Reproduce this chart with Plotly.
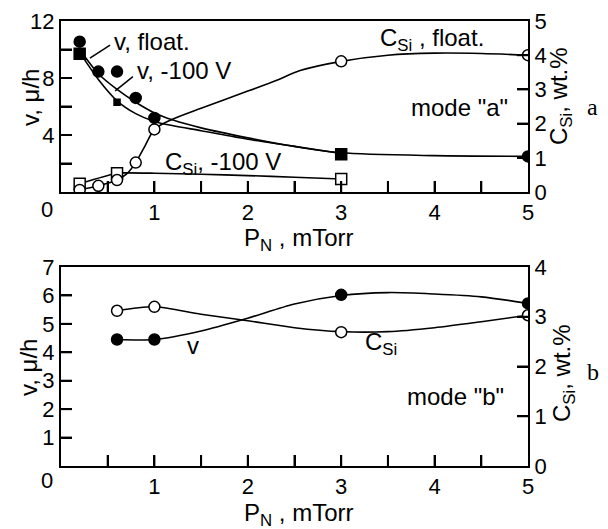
import plotly.graph_objects as go

# ---------------- Panel a (mode "a") ----------------
# measured points
a_v_float_x = [0.2, 0.4, 0.6, 0.8, 1.0, 5.0]
a_v_float_y = [10.55, 8.45, 8.45, 6.6, 5.2, 2.5]
a_v_m100_x = [0.2, 0.6, 3.0]
a_v_m100_y = [9.7, 6.3, 2.65]
a_csi_float_x = [0.2, 0.4, 0.6, 0.8, 1.0, 3.0, 5.0]
a_csi_float_y = [0.06, 0.18, 0.35, 0.86, 1.83, 3.82, 4.0]
a_csi_m100_x = [0.2, 0.6, 3.0]
a_csi_m100_y = [0.24, 0.55, 0.38]

# fitted curves
a_fit_v_float_x = [0.2, 0.4, 0.6, 0.8, 1.0, 1.2, 1.5, 2.0, 2.5, 3.0, 4.0, 5.0]
a_fit_v_float_y = [10.0, 8.3, 7.2, 6.3, 5.55, 5.05, 4.5, 3.8, 3.2, 2.75, 2.55, 2.5]
a_fit_v_m100_x = [0.2, 0.4, 0.6, 0.8, 1.0, 1.2, 1.5, 2.0, 2.5, 3.0]
a_fit_v_m100_y = [9.8, 7.9, 6.4, 5.5, 4.95, 4.65, 4.3, 3.7, 3.2, 2.7]
a_fit_csi_float_x = [0.2, 0.4, 0.6, 0.7, 0.8, 0.9, 1.0, 1.17, 1.5, 2.0, 2.31, 2.56, 3.0, 3.5, 4.0, 4.5, 5.0]
a_fit_csi_float_y = [0.06, 0.18, 0.35, 0.52, 0.86, 1.35, 1.83, 2.1, 2.45, 2.95, 3.27, 3.55, 3.82, 4.0, 4.06, 4.05, 4.0]
a_fit_csi_m100_x = [0.2, 0.6, 0.7, 1.0, 1.5, 2.0, 2.5, 3.0]
a_fit_csi_m100_y = [0.24, 0.55, 0.56, 0.55, 0.52, 0.48, 0.43, 0.38]

# ---------------- Panel b (mode "b") ----------------
b_v_x = [0.6, 1.0, 3.0, 5.0]
b_v_y = [4.45, 4.45, 6.02, 5.72]
b_csi_x = [0.6, 1.0, 3.0, 5.0]
b_csi_y = [3.12, 3.2, 2.69, 3.03]
b_fit_v_x = [0.6, 1.0, 1.5, 2.0, 2.5, 3.0, 3.5, 4.0, 4.5, 5.0]
b_fit_v_y = [4.45, 4.45, 4.75, 5.2, 5.7, 6.0, 6.1, 6.05, 5.95, 5.72]
b_fit_csi_x = [0.6, 1.0, 1.5, 2.0, 2.5, 3.0, 3.5, 4.0, 4.5, 5.0]
b_fit_csi_y = [3.12, 3.2, 3.05, 2.92, 2.78, 2.7, 2.7, 2.78, 2.9, 3.03]

# tick labels
x_tickvals = [0, 0.5, 1, 1.5, 2, 2.5, 3, 3.5, 4, 4.5, 5]
x_ticktext = ["", "", "1", "", "2", "", "3", "", "4", "", "5"]
a_left_tickvals = [0, 2, 4, 6, 8, 10, 12]
a_left_ticktext = ["", "", "4", "", "8", "", "12"]
a_right_tickvals = [0, 1, 2, 3, 4, 5]
a_right_ticktext = ["0", "1", "2", "3", "4", "5"]
b_left_tickvals = [0, 1, 2, 3, 4, 5, 6, 7]
b_left_ticktext = ["", "1", "2", "3", "4", "5", "6", "7"]
b_right_tickvals = [0, 1, 2, 3, 4]
b_right_ticktext = ["0", "1", "2", "3", "4"]

X_RANGE = [0, 5]
A_LEFT_RANGE = [0, 12]
A_RIGHT_RANGE = [0, 5]
B_LEFT_RANGE = [0, 7]
B_RIGHT_RANGE = [0, 4]

FONT = "Liberation Sans, Arial, sans-serif"
SERIF = "Liberation Serif, Times New Roman, serif"
TICKF = 22
ANNF = 24
LW = 1.6
TICKLEN = 11

fig = go.Figure()

def line(x, y, xa, ya):
    fig.add_trace(go.Scatter(x=x, y=y, mode="lines", line=dict(color="#000000", width=LW, shape="spline", smoothing=0.8),
                             xaxis=xa, yaxis=ya, hoverinfo="skip", showlegend=False))

def pts(x, y, xa, ya, symbol, filled, size=11):
    fig.add_trace(go.Scatter(x=x, y=y, mode="markers", xaxis=xa, yaxis=ya, showlegend=False,
                             marker=dict(symbol=symbol, size=size, color="#000000" if filled else "#ffffff",
                                         opacity=1, line=dict(color="#000000", width=1.5))))

# panel a
line(a_fit_v_float_x, a_fit_v_float_y, "x", "y")
line(a_fit_v_m100_x, a_fit_v_m100_y, "x", "y")
line(a_fit_csi_float_x, a_fit_csi_float_y, "x", "y2")
line(a_fit_csi_m100_x, a_fit_csi_m100_y, "x", "y2")
pts(a_csi_m100_x, a_csi_m100_y, "x", "y2", "square", False, 11)
pts(a_csi_float_x, a_csi_float_y, "x", "y2", "circle", False, 11)
pts(a_v_float_x, a_v_float_y, "x", "y", "circle", True, 11)
pts(a_v_m100_x, a_v_m100_y, "x", "y", "square", True, [11, 6, 11])

# panel b
line(b_fit_v_x, b_fit_v_y, "x2", "y3")
line(b_fit_csi_x, b_fit_csi_y, "x2", "y4")
pts(b_v_x, b_v_y, "x2", "y3", "circle", True, 11)
pts(b_csi_x, b_csi_y, "x2", "y4", "circle", False, 11)

W, H = 608, 529
XPIX = (61, 528)
TOPPIX = (21, 192)
BOTPIX = (267, 466)
XD = [XPIX[0] / W, XPIX[1] / W]
TOPD = [1 - TOPPIX[1] / H, 1 - TOPPIX[0] / H]
BOTD = [1 - BOTPIX[1] / H, 1 - BOTPIX[0] / H]

def ax(**kw):
    d = dict(showline=True, linecolor="#000000", linewidth=2, ticks="inside", ticklen=TICKLEN, tickwidth=2,
             tickcolor="#000000", showgrid=False, zeroline=False,
             tickfont=dict(family=FONT, size=TICKF, color="#000000"))
    d.update(kw)
    return d

fig.update_layout(
    width=W, height=H, showlegend=False,
    margin=dict(l=0, r=0, t=0, b=0, autoexpand=False),
    paper_bgcolor="white", plot_bgcolor="white",
    xaxis=ax(domain=XD, anchor="y", range=X_RANGE, tickvals=x_tickvals, ticktext=x_ticktext, mirror=True),
    yaxis=ax(domain=TOPD, anchor="x", range=A_LEFT_RANGE, tickvals=a_left_tickvals, ticktext=a_left_ticktext),
    yaxis2=ax(overlaying="y", side="right", anchor="x", range=A_RIGHT_RANGE, tickvals=a_right_tickvals,
              ticktext=a_right_ticktext),
    xaxis2=ax(domain=XD, anchor="y3", range=X_RANGE, tickvals=x_tickvals, ticktext=x_ticktext, mirror=True),
    yaxis3=ax(domain=BOTD, anchor="x2", range=B_LEFT_RANGE, tickvals=b_left_tickvals, ticktext=b_left_ticktext),
    yaxis4=ax(overlaying="y3", side="right", anchor="x2", range=B_RIGHT_RANGE, tickvals=b_right_tickvals,
              ticktext=b_right_ticktext),
)

# inside tick marks built from the same tick arrays, in axis units (TICKLEN pixels long)
tick_style = dict(color="#000000", width=2)
plot_w = XPIX[1] - XPIX[0]
x_len = TICKLEN / plot_w * (X_RANGE[1] - X_RANGE[0])
panels = [
    ("x", "y", "y2", A_LEFT_RANGE, A_RIGHT_RANGE, TOPPIX, a_left_tickvals, a_right_tickvals),
    ("x2", "y3", "y4", B_LEFT_RANGE, B_RIGHT_RANGE, BOTPIX, b_left_tickvals, b_right_tickvals),
]
for xr, yl, yrt, lrange, rrange, pix, lvals, rvals in panels:
    h = pix[1] - pix[0]
    y_len = TICKLEN / h * (lrange[1] - lrange[0])
    for tv in x_tickvals[1:-1]:
        fig.add_shape(type="line", xref=xr, yref=yl, x0=tv, x1=tv, y0=lrange[0], y1=lrange[0] + y_len,
                      line=tick_style, layer="above")
    for tv in lvals[1:-1]:
        fig.add_shape(type="line", xref=xr, yref=yl, x0=X_RANGE[0], x1=X_RANGE[0] + x_len, y0=tv, y1=tv,
                      line=tick_style, layer="above")
    for tv in rvals[1:-1]:
        fig.add_shape(type="line", xref=xr, yref=yrt, x0=X_RANGE[1] - x_len, x1=X_RANGE[1], y0=tv, y1=tv,
                      line=tick_style, layer="above")

anns = []
def ann(text, x, y, xref, yref, xanchor="center", yanchor="middle", size=ANNF, angle=0, family=FONT):
    anns.append(dict(text=text, x=x, y=y, xref=xref, yref=yref, xanchor=xanchor, yanchor=yanchor,
                     showarrow=False, textangle=angle, font=dict(family=family, size=size, color="#000000")))

# panel a labels
ann("v, float.", 0.55, 10.55, "x", "y", xanchor="left")
ann("v, -100 V", 0.79, 8.55, "x", "y", xanchor="left")
ann("C<sub>Si</sub>, -100 V", 1.09, 2.0, "x", "y", xanchor="left")
ann("C<sub>Si</sub> , float.", 3.39, 10.7, "x", "y", xanchor="left")
ann('mode "a"', 4.81, 5.95, "x", "y", xanchor="right")
ann("a", 592 / W, 1 - 107 / H, "paper", "paper", family=SERIF, size=24)
ann("v, μ/h", 30 / W, 1 - 98 / H, "paper", "paper", angle=-90)
ann("C<sub>Si</sub>, wt.%", 561 / W, 1 - 96 / H, "paper", "paper", angle=-90)
ann("P<sub>N</sub> , mTorr", 298 / W, 1 - 239 / H, "paper", "paper")
ann("0", 47 / W, 1 - 209 / H, "paper", "paper", size=TICKF)

# panel b labels
ann("v", 1.41, 4.25, "x2", "y3")
ann("C<sub>Si</sub>", 3.23, 4.3, "x2", "y3", xanchor="left")
ann('mode "b"', 4.76, 2.43, "x2", "y3", xanchor="right")
ann("b", 593 / W, 1 - 372 / H, "paper", "paper", family=SERIF, size=24)
ann("v, μ/h", 28 / W, 1 - 368 / H, "paper", "paper", angle=-90)
ann("C<sub>Si</sub>, wt.%", 563 / W, 1 - 373 / H, "paper", "paper", angle=-90)
ann("P<sub>N</sub> , mTorr", 298 / W, 1 - 514 / H, "paper", "paper")
ann("0", 47 / W, 1 - 480 / H, "paper", "paper", size=TICKF)

fig.update_layout(annotations=anns)

# leader lines for the v labels
fig.add_shape(type="line", xref="x", yref="y", x0=0.31, y0=9.4, x1=0.525, y1=10.3, line=dict(color="#000000", width=1.5))
fig.add_shape(type="line", xref="x", yref="y", x0=0.58, y0=7.1, x1=0.77, y1=8.1, line=dict(color="#000000", width=1.5))

fig.write_html("out.html")
